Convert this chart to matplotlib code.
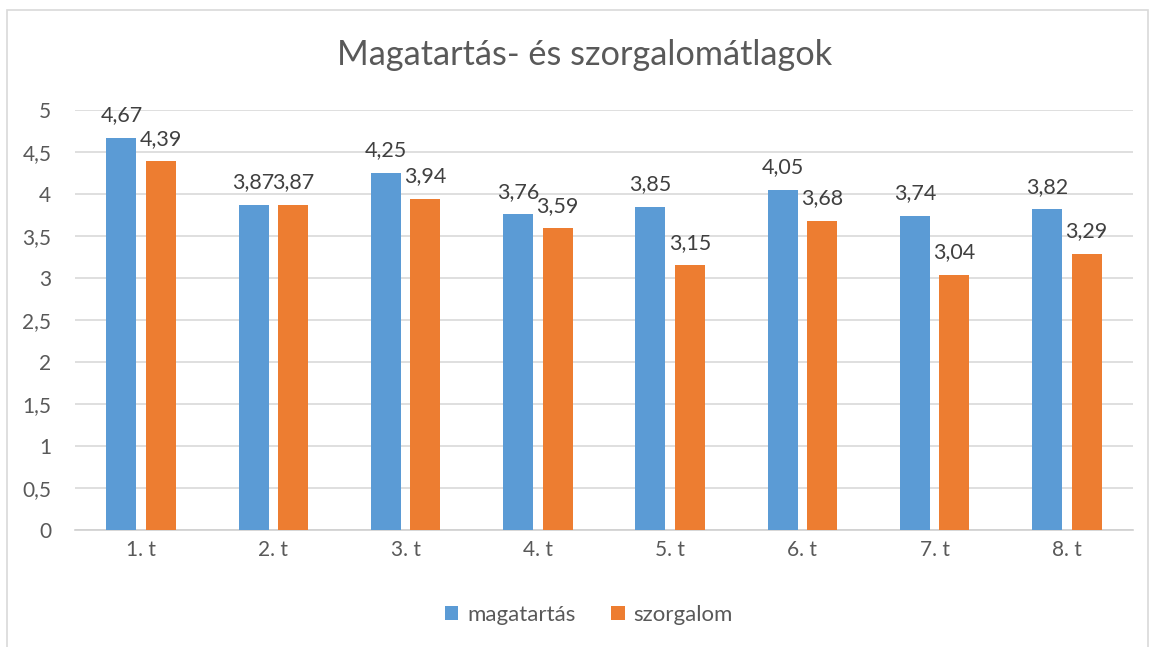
import matplotlib
matplotlib.use("Agg")
import matplotlib.pyplot as plt
from matplotlib.patches import Rectangle
import numpy as np

# data
categories = ["1. t", "2. t", "3. t", "4. t", "5. t", "6. t", "7. t", "8. t"]
magatartas = [4.67, 3.87, 4.25, 3.76, 3.85, 4.05, 3.74, 3.82]
szorgalom = [4.39, 3.87, 3.94, 3.59, 3.15, 3.68, 3.04, 3.29]
yticks = [0, 0.5, 1, 1.5, 2, 2.5, 3, 3.5, 4, 4.5, 5]

BLUE = "#5B9BD5"
ORANGE = "#ED7D31"
TXT = "#595959"

plt.rcParams["font.family"] = ["Lato", "DejaVu Sans"]

fig = plt.figure(figsize=(11.55, 6.47), dpi=100)
fig.patches.append(Rectangle((7 / 1155, -0.01), 1141 / 1155, 1 - 10 / 647 + 0.01,
                             transform=fig.transFigure, fill=False,
                             edgecolor="#d9d9d9", linewidth=1.2))

ax = fig.add_axes([75 / 1155, 1 - 530 / 647, (1133 - 75) / 1155, 420 / 647])

x = np.arange(len(categories))
w = 0.227
off = 0.149
b1 = ax.bar(x - off, magatartas, w, color=BLUE, zorder=3)
b2 = ax.bar(x + off, szorgalom, w, color=ORANGE, zorder=3)

def fmt(v):
    return f"{v:.2f}".replace(".", ",")

for bars, vals in ((b1, magatartas), (b2, szorgalom)):
    for r, v in zip(bars, vals):
        ax.annotate(fmt(v), (r.get_x() + r.get_width() / 2, v),
                    xytext=(0, 9), textcoords="offset points",
                    ha="center", va="bottom", fontsize=15.5, color="#404040")

ax.set_xlim(-0.5, len(categories) - 0.5)
ax.set_ylim(0, 5)
ax.set_yticks(yticks)
ax.set_yticklabels([f"{t:g}".replace(".", ",") for t in yticks])
ax.set_xticks(x)
ax.set_xticklabels(categories)
ax.tick_params(axis="both", length=0, labelsize=15, colors=TXT)
ax.tick_params(axis="y", pad=17)
ax.tick_params(axis="x", pad=7)
ax.grid(axis="y", color="#d9d9d9", linewidth=1.2, zorder=0)
for s in ("top", "right", "left"):
    ax.spines[s].set_visible(False)
ax.spines["bottom"].set_color("#d0d0d0")
ax.spines["bottom"].set_linewidth(1.2)

fig.text(585 / 1155, 1 - 55 / 647, "Magatartás- és szorgalomátlagok",
         ha="center", va="center", fontsize=24.7, color=TXT)

leg = fig.legend(handles=[b1, b2], labels=["magatartás", "szorgalom"],
                 loc="center", bbox_to_anchor=(589 / 1155, 1 - 615 / 647),
                 ncol=2, frameon=False, fontsize=16, handlelength=0.6,
                 handleheight=0.6, handletextpad=0.4, columnspacing=1.6)
for t in leg.get_texts():
    t.set_color(TXT)

fig.savefig("out.png", dpi=100, facecolor="white")
